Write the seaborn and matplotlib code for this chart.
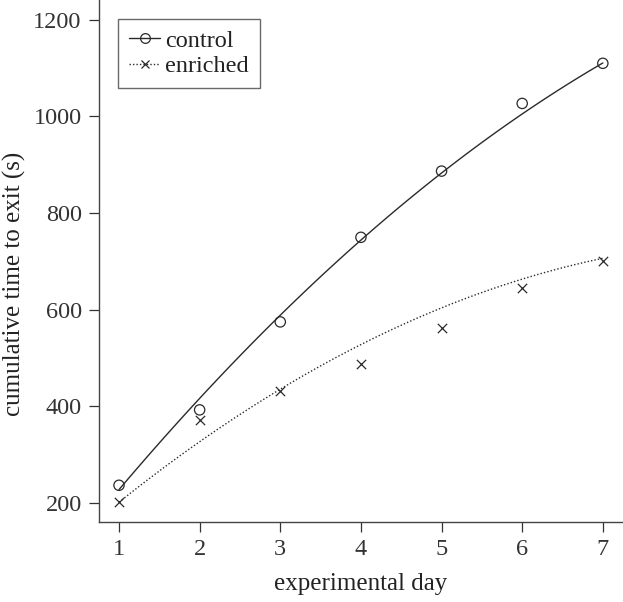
import numpy as np
import pandas as pd
import seaborn as sns
import matplotlib.pyplot as plt

days = [1, 2, 3, 4, 5, 6, 7]
control = [237, 393, 575, 750, 887, 1027, 1110]
enriched = [202, 372, 432, 487, 563, 645, 700]
# fitted curve heights at each day
fit_control = [228, 417, 589, 744, 882, 1007, 1110]
fit_enriched = [202, 328, 433, 530, 605, 662, 707]

df = pd.DataFrame({"day": days, "control": control, "enriched": enriched,
                   "fit_control": fit_control, "fit_enriched": fit_enriched})

sns.set_style("ticks")
plt.rcParams['font.family'] = ['Liberation Serif', 'DejaVu Serif']
plt.rcParams['text.color'] = '#222222'
plt.rcParams['axes.labelcolor'] = '#222222'
plt.rcParams['xtick.color'] = '#333333'
plt.rcParams['ytick.color'] = '#333333'

fig = plt.figure(figsize=(6.23, 6.02), dpi=100)
ax = fig.add_axes([99 / 623, 80 / 602, 1 - 99 / 623, 1 - 80 / 602])

line_col = '#2a2a2a'
dots = (0, (1, 1.5))
# fitted curves
sns.regplot(data=df, x="day", y="fit_control", order=2, ci=None, scatter=False,
            ax=ax, truncate=True, line_kws=dict(color=line_col, lw=1.0, ls='-'))
sns.regplot(data=df, x="day", y="fit_enriched", order=2, ci=None, scatter=False,
            ax=ax, truncate=True, line_kws=dict(color=line_col, lw=1.0, ls=dots))
# raw points
sns.scatterplot(data=df, x="day", y="control", ax=ax, marker='o', s=55,
                facecolor='none', edgecolor=line_col, linewidth=0.9)
sns.scatterplot(data=df, x="day", y="enriched", ax=ax, marker='x', s=45,
                color=line_col, linewidth=0.9)

ax.set_xlim(0.752, 7.25)
ax.set_ylim(161, 1241)
ax.set_xticks(days)
ax.set_yticks([200, 400, 600, 800, 1000, 1200])
ax.tick_params(labelsize=17.5, length=7.5, width=0.9, direction='out', pad=5)
for s in ['top', 'right']:
    ax.spines[s].set_visible(False)
for s in ['left', 'bottom']:
    ax.spines[s].set_color('#444444')
    ax.spines[s].set_linewidth(1.0)

ax.set_xlabel("experimental day", fontsize=18, labelpad=9)
ax.set_ylabel("cumulative time to exit (s)", fontsize=18)
ax.yaxis.set_label_coords(-0.14, 0.456)

h1, = ax.plot([], [], color=line_col, lw=1.0, marker='o', mfc='none', ms=7, mew=0.9)
h2, = ax.plot([], [], color=line_col, lw=1.0, ls=dots, marker='x', ms=6, mew=0.9)
leg = ax.legend([h1, h2], ["control", "enriched"], loc='upper left',
                bbox_to_anchor=(0.036, 0.964), fontsize=17.5, handlelength=1.3,
                handletextpad=0.2, borderpad=0.45, labelspacing=0.15,
                borderaxespad=0, fancybox=False, frameon=True, edgecolor='#444444')
leg.get_frame().set_linewidth(1.0)

fig.savefig("out.png", dpi=100)
